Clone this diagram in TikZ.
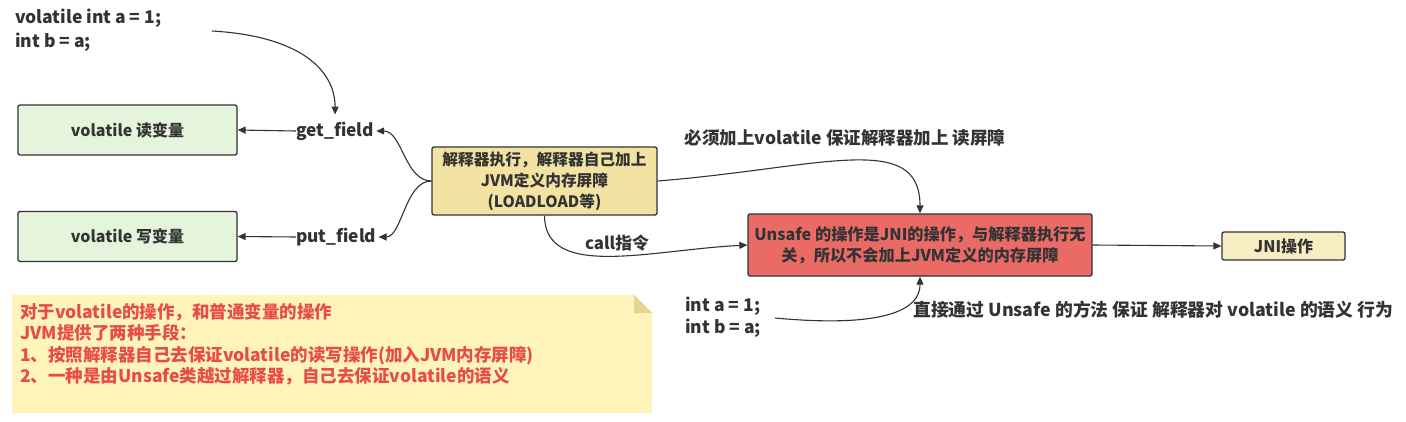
\documentclass[tikz,border=0pt]{standalone}
\usepackage{fontspec}
\setmainfont{Noto Sans CJK SC}
\usetikzlibrary{arrows.meta}
\definecolor{ink}{HTML}{333333}
\definecolor{greenfill}{HTML}{E5F5DB}
\definecolor{yellowfill}{HTML}{F2E3A2}
\definecolor{redfill}{HTML}{EA6B66}
\definecolor{jnifill}{HTML}{F7EDC2}
\definecolor{notefill}{HTML}{FFF5BA}
\definecolor{notefold}{HTML}{E6D48E}
\definecolor{notetext}{HTML}{E84C4A}
\tikzset{
  box/.style={draw=ink, line width=1.3pt, rounded corners=2pt, align=center, text=ink, font=\fontsize{16}{19}\selectfont\bfseries, inner sep=0pt},
  lbl/.style={text=ink, font=\fontsize{17.3}{20}\selectfont\bfseries, inner sep=0pt},
  arr/.style={draw=ink, line width=1.1pt, -{Triangle[length=8pt,width=7pt]}},
}
\begin{document}
\begin{tikzpicture}[x=1pt,y=-1pt]
\useasboundingbox[fill=white] (0,0) rectangle (1406,421);
% note
\fill[notefill] (12,295) -- (634,295) -- (652,313) -- (652,413) -- (12,413) -- cycle;
\fill[notefold] (634,295) -- (634,313) -- (652,313) -- cycle;
\node[anchor=north west, align=left, text=notetext, font=\fontsize{17.5}{21.5}\selectfont\bfseries, inner sep=0pt] (note) at (20,303)
 {对于volatile的操作，和普通变量的操作\\JVM提供了两种手段：\\1、按照解释器自己去保证volatile的读写操作(加入JVM内存屏障)\\2、一种是由Unsafe类越过解释器，自己去保证volatile的语义};
% boxes
\node[box, fill=greenfill, minimum width=219pt, minimum height=50pt] (rd) at (127.5,130) {volatile 读变量};
\node[box, fill=greenfill, minimum width=219pt, minimum height=50pt] (wr) at (127.5,236.5) {volatile 写变量};
\node[box, fill=yellowfill, minimum width=225pt, minimum height=68pt, font=\fontsize{15.7}{21}\selectfont\bfseries] (interp) at (544.5,181) {解释器执行，解释器自己加上\\JVM定义内存屏障\\(LOADLOAD等)};
\node[box, fill=redfill, minimum width=344pt, minimum height=62pt, font=\fontsize{16.2}{21}\selectfont\bfseries] (unsafe) at (920,245) {Unsafe 的操作是JNI的操作，与解释器执行无\\关，所以不会加上JVM定义的内存屏障};
\node[box, fill=jnifill, minimum width=123pt, minimum height=28pt] (jni) at (1283.5,246) {JNI操作};
% labels
\node[lbl, anchor=west] (get) at (296,131) {get\_field};
\node[lbl, anchor=west] (put) at (296,237) {put\_field};
\node[lbl, anchor=north west, align=left, font=\fontsize{17.5}{24}\selectfont\bfseries] (code1) at (15,9) {volatile int a = 1;\\int b = a;};
\node[lbl, anchor=north west, align=left, font=\fontsize{17.5}{22}\selectfont\bfseries] (code2) at (685,297) {int a = 1;\\int b = a;};
\node[lbl, font=\fontsize{17.5}{20}\selectfont\bfseries] (must) at (845,138) {必须加上volatile 保证解释器加上 读屏障};
\node[lbl, font=\fontsize{16.8}{20}\selectfont\bfseries] (call) at (617,243) {call指令};
\node[lbl, anchor=west, font=\fontsize{17.8}{20}\selectfont\bfseries] (direct) at (913,310) {直接通过 Unsafe 的方法 保证 解释器对 volatile 的语义 行为};
\coordinate (s1) at (212,31);
\coordinate (s2) at (775,318);
% connectors
\draw[arr, shorten >=7pt] (s1) .. controls (300,36) and (335,70) .. (get.north);
\draw[arr] (get.west) -- (rd.east);
\draw[arr] (put.west) -- (wr.east);
\draw[arr] (interp.west) .. controls (405,181) and (402,131) .. ([xshift=2pt]get.east);
\draw[arr] (interp.west) .. controls (405,181) and (402,237) .. ([xshift=2pt]put.east);
\draw[arr] (interp.east) .. controls (820,168) and (920,130) .. (unsafe.north);
\draw[arr] (interp.south) .. controls (545,280) and (650,250) .. (unsafe.west);
\draw[arr] (unsafe.east) -- (jni.west);
\draw[arr] (s2) .. controls (860,326) and (920,318) .. (unsafe.south);
\end{tikzpicture}
\end{document}
